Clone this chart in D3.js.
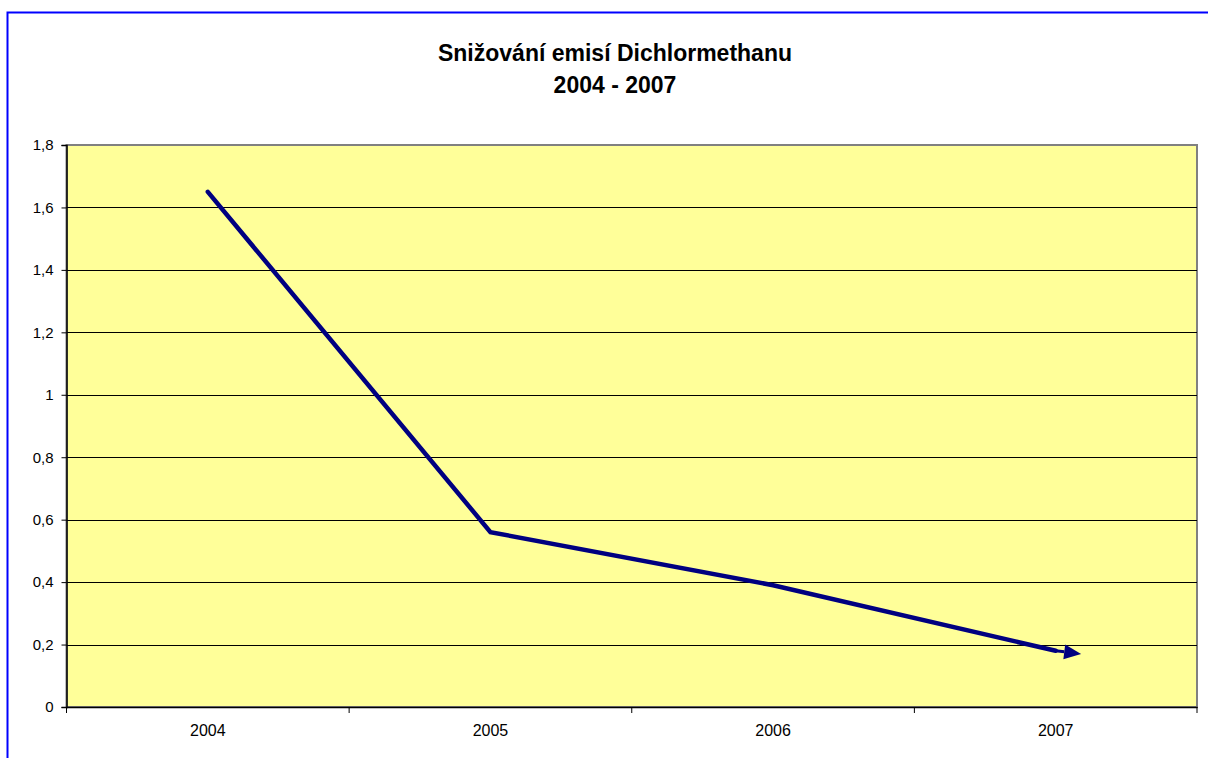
<!DOCTYPE html>
<html><head><meta charset="utf-8">
<script src="https://cdn.jsdelivr.net/npm/d3@7"></script>
<style>
html,body{margin:0;padding:0;background:#fff;}
svg{display:block;font-family:Arial,"Liberation Sans",sans-serif;}
</style></head>
<body>
<svg id="chart" width="1208" height="758"></svg>
<script>
const titleLines = ["Snižování emisí Dichlormethanu", "2004 - 2007"];
const years = ["2004", "2005", "2006", "2007"];
const values = [1.65, 0.56, 0.39, 0.18];
const yTicks = [0, 0.2, 0.4, 0.6, 0.8, 1, 1.2, 1.4, 1.6, 1.8];
const arrowEndValue = 0.17;

const svg = d3.select("#chart");
const W = 1208, H = 758;
const plot = {left: 66.5, top: 145, right: 1197, bottom: 707};

// outer border
svg.append("rect").attr("x", 7.5).attr("y", 12.5).attr("width", W + 20).attr("height", H + 20)
  .attr("fill", "#fff").attr("stroke", "#0000ff").attr("stroke-width", 2);

// title
[[titleLines[0], 61], [titleLines[1], 93]].forEach(([t, yy]) => {
  svg.append("text").attr("x", 615).attr("y", yy).attr("text-anchor", "middle")
    .attr("font-size", 23).attr("font-weight", "bold").attr("fill", "#000").text(t);
});

const x = d3.scaleBand().domain(years).range([plot.left, plot.right]).padding(0);
const y = d3.scaleLinear().domain([0, 1.8]).range([plot.bottom, plot.top]);

// plot background
svg.append("rect").attr("x", plot.left).attr("y", plot.top)
  .attr("width", plot.right - plot.left).attr("height", plot.bottom - plot.top)
  .attr("fill", "#ffff99").attr("stroke", "#808080").attr("stroke-width", 2);

// gridlines
svg.append("g").selectAll("line").data(yTicks.filter(d => d > 0 && d < 1.8)).join("line")
  .attr("x1", plot.left).attr("x2", plot.right)
  .attr("y1", d => Math.round(y(d)) + 0.5).attr("y2", d => Math.round(y(d)) + 0.5)
  .attr("stroke", "#000").attr("stroke-width", 1);

const fmt = d => String(d).replace(".", ",");

// y axis
const yAxis = svg.append("g").attr("transform", `translate(${plot.left},0)`)
  .call(d3.axisLeft(y).tickValues(yTicks).tickFormat(fmt).tickSize(5).tickPadding(8));
yAxis.select(".domain").attr("stroke", "#000").attr("stroke-width", 1.5);
yAxis.selectAll(".tick line").attr("stroke", "#000");
yAxis.selectAll(".tick text").attr("font-size", 15).attr("font-family", "Arial, 'Liberation Sans', sans-serif").attr("fill", "#000");

// x axis
const xAxis = svg.append("g").attr("transform", `translate(0,${plot.bottom})`)
  .call(d3.axisBottom(x).tickSize(0).tickPadding(18));
xAxis.select(".domain").attr("stroke", "#000").attr("stroke-width", 1.5);
xAxis.selectAll(".tick text").attr("font-size", 16).attr("font-family", "Arial, 'Liberation Sans', sans-serif").attr("fill", "#000");
// band boundary ticks
const bounds = years.map(d => x(d)).concat([x(years[years.length - 1]) + x.bandwidth()]);
svg.append("g").selectAll("line").data(bounds).join("line")
  .attr("x1", d => d).attr("x2", d => d)
  .attr("y1", plot.bottom).attr("y2", plot.bottom + 6)
  .attr("stroke", "#000").attr("stroke-width", 1);

// line
const pts = years.map((d, i) => [x(d) + x.bandwidth() / 2, y(values[i])]);
svg.append("path").datum(pts).attr("d", d3.line())
  .attr("fill", "none").attr("stroke", "#000080").attr("stroke-width", 4.5)
  .attr("stroke-linejoin", "miter").attr("stroke-linecap", "round");

// arrow annotation at end of series
const last = pts[pts.length - 1];
const tip = [last[0] + x.bandwidth() * 0.09, y(arrowEndValue)];
const ang = Math.atan2(tip[1] - last[1], tip[0] - last[0]);
const headLen = 17, headW = 7.5;
const base = [tip[0] - headLen * Math.cos(ang), tip[1] - headLen * Math.sin(ang)];
svg.append("line").attr("x1", last[0]).attr("y1", last[1]).attr("x2", base[0]).attr("y2", base[1])
  .attr("stroke", "#000080").attr("stroke-width", 3);
svg.append("path")
  .attr("d", `M${tip[0]},${tip[1]}L${base[0] - headW * Math.sin(ang)},${base[1] + headW * Math.cos(ang)}L${base[0] + headW * Math.sin(ang)},${base[1] - headW * Math.cos(ang)}Z`)
  .attr("fill", "#000080");
</script>
</body></html>
